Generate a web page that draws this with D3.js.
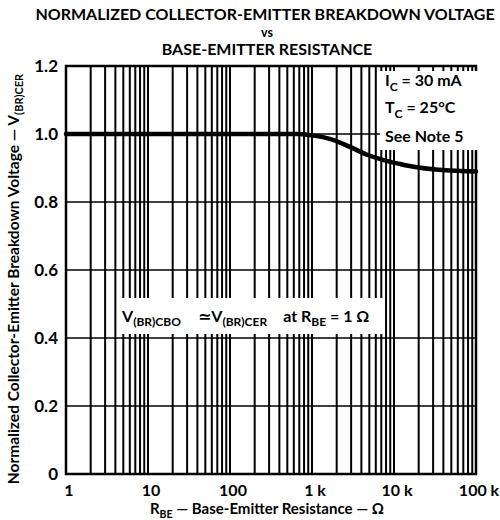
<!DOCTYPE html>
<html><head><meta charset="utf-8">
<script src="https://cdn.jsdelivr.net/npm/d3@7"></script>
<style>
body{margin:0;background:#fff;}
svg text{font-family:Lato,"DejaVu Sans",sans-serif;font-weight:700;fill:#000;}
</style></head>
<body><svg id="c" width="500" height="520"></svg>
<script>
// ---- data ----
const xTickValues = [1, 10, 100, 1000, 10000, 100000];
const xTickLabels = ["1", "10", "100", "1 k", "10 k", "100 k"];
const yTickValues = [0, 0.2, 0.4, 0.6, 0.8, 1.0, 1.2];
const yTickLabels = ["0", "0.2", "0.4", "0.6", "0.8", "1.0", "1.2"];
const rbe   = [1, 10, 100, 400, 650, 1000, 1400, 1800, 2900, 4700, 7300, 11800, 19000, 30000, 48000, 100000];
const vnorm = [1.0, 1.0, 1.0, 1.0, 1.0, 0.996, 0.99, 0.983, 0.962, 0.939, 0.924, 0.912, 0.902, 0.896, 0.893, 0.89];

const svg = d3.select("#c");
const L = 66, R = 476, T = 66, B = 474;
const x = d3.scaleLog().domain([1, 100000]).range([L, R]);
const y = d3.scaleLinear().domain([0, 1.2]).range([B, T]);

// grid
const g = svg.append("g");
g.selectAll(".vg").data(x.ticks()).enter().append("line")
  .attr("x1", d => x(d)).attr("x2", d => x(d)).attr("y1", T).attr("y2", B)
  .attr("stroke", "#000").attr("stroke-width", 2);
g.selectAll(".hg").data(yTickValues).enter().append("line")
  .attr("x1", L).attr("x2", R).attr("y1", d => y(d)).attr("y2", d => y(d))
  .attr("stroke", "#000").attr("stroke-width", 1.6);

// frame
svg.append("rect").attr("x", L).attr("y", T).attr("width", R - L).attr("height", B - T)
  .attr("fill", "none").attr("stroke", "#000").attr("stroke-width", 2.5);

// curve
const line = d3.line().x((d, i) => x(rbe[i])).y((d, i) => y(vnorm[i])).curve(d3.curveMonotoneX);
svg.append("path").datum(rbe).attr("d", line).attr("fill", "none")
  .attr("stroke", "#000").attr("stroke-width", 4.5).attr("stroke-linecap", "round");

// annotation boxes
svg.append("rect").attr("x", 380).attr("y", 71).attr("width", 100).attr("height", 79).attr("fill", "#fff");
svg.append("rect").attr("x", 118).attr("y", 298).attr("width", 267).attr("height", 36).attr("fill", "#fff");

let t1 = svg.append("text").attr("x", 385).attr("y", 86).attr("font-size", "16px");
t1.append("tspan").text("I");
t1.append("tspan").text("C").attr("dy", 5).attr("font-size", "12px");
t1.append("tspan").text(" = 30 mA").attr("dy", -5);
let t2 = svg.append("text").attr("x", 385).attr("y", 113).attr("font-size", "16px");
t2.append("tspan").text("T");
t2.append("tspan").text("C").attr("dy", 5).attr("font-size", "12px");
t2.append("tspan").text(" = 25°C").attr("dy", -5);
svg.append("text").attr("x", 385).attr("y", 142).attr("font-size", "16px").text("See Note 5");

let t3 = svg.append("text").attr("x", 122).attr("y", 322).attr("font-size", "16px");
t3.append("tspan").text("V");
t3.append("tspan").text("(BR)CBO").attr("dy", 4).attr("font-size", "12px");
t3.append("tspan").text("\u2243").attr("dx", 17).attr("dy", -4);
t3.append("tspan").text("V");
t3.append("tspan").text("(BR)CER").attr("dy", 4).attr("font-size", "12px");
t3.append("tspan").text("at R").attr("dx", 16).attr("dy", -4);
t3.append("tspan").text("BE").attr("dy", 4).attr("font-size", "12px");
t3.append("tspan").text(" = 1 \u03A9").attr("dy", -4);

// tick labels
svg.selectAll(".xl").data(xTickValues).enter().append("text")
  .attr("x", d => x(d) + 3).attr("y", 496).attr("text-anchor", "middle").attr("font-size", "16px")
  .text((d, i) => xTickLabels[i]);
svg.selectAll(".yl").data(yTickValues).enter().append("text")
  .attr("x", 58).attr("y", d => y(d) + 6).attr("text-anchor", "end").attr("font-size", "17px")
  .text((d, i) => yTickLabels[i]);

// axis titles
let xt = svg.append("text").attr("x", 267).attr("y", 514).attr("text-anchor", "middle").attr("font-size", "15px");
xt.append("tspan").text("R");
xt.append("tspan").text("BE").attr("dy", 4).attr("font-size", "10.5px");
xt.append("tspan").text(" \u2014 Base-Emitter Resistance \u2014 \u03A9").attr("dy", -4);

let yt = svg.append("text").attr("transform", "translate(19,279) rotate(-90)")
  .attr("text-anchor", "middle").attr("font-size", "15.5px");
yt.append("tspan").text("Normalized Collector-Emitter Breakdown Voltage \u2014 V");
yt.append("tspan").text("(BR)CER").attr("dy", 4).attr("font-size", "11px");

// title
svg.append("text").attr("x", 265).attr("y", 20).attr("text-anchor", "middle").attr("font-size", "16px")
  .text("NORMALIZED COLLECTOR-EMITTER BREAKDOWN VOLTAGE");
svg.append("text").attr("x", 267).attr("y", 37).attr("text-anchor", "middle").attr("font-size", "12.5px").text("vs");
svg.append("text").attr("x", 267).attr("y", 55).attr("text-anchor", "middle").attr("font-size", "16px")
  .text("BASE-EMITTER RESISTANCE");
</script></body></html>
